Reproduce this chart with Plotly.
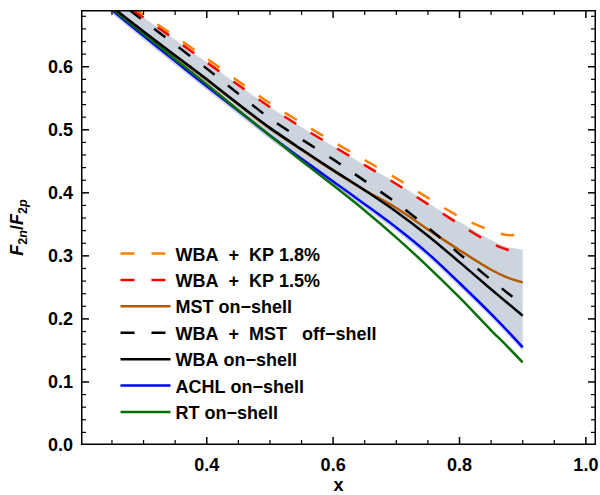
import plotly.graph_objects as go

# ---------------- data ----------------
x_vals = [0.20, 0.25, 0.30, 0.35, 0.40, 0.45, 0.50, 0.55, 0.60, 0.65, 0.70, 0.75, 0.80, 0.85, 0.875, 0.90]

kp18 = [0.750, 0.716, 0.682, 0.648, 0.613, 0.577, 0.542, 0.511, 0.481, 0.452, 0.423, 0.392, 0.362, 0.340, 0.333, 0.334]
kp15 = [0.745, 0.712, 0.678, 0.643, 0.607, 0.571, 0.536, 0.504, 0.474, 0.444, 0.414, 0.382, 0.350, 0.320, 0.310, 0.306]
mst_on = [0.734, 0.694, 0.655, 0.617, 0.579, 0.540, 0.502, 0.468, 0.435, 0.404, 0.376, 0.342, 0.309, 0.278, 0.266, 0.258]
wba_mst_off = [0.750, 0.711, 0.673, 0.635, 0.597, 0.557, 0.518, 0.485, 0.453, 0.419, 0.384, 0.345, 0.303, 0.262, 0.242, 0.222]
wba_on = [0.735, 0.695, 0.656, 0.618, 0.580, 0.541, 0.503, 0.469, 0.436, 0.404, 0.370, 0.332, 0.290, 0.247, 0.226, 0.205]
achl_on = [0.732, 0.690, 0.649, 0.609, 0.569, 0.530, 0.491, 0.454, 0.418, 0.382, 0.345, 0.304, 0.257, 0.208, 0.182, 0.155]
rt_on = [0.734, 0.692, 0.652, 0.612, 0.572, 0.531, 0.491, 0.451, 0.412, 0.372, 0.329, 0.283, 0.234, 0.182, 0.157, 0.131]

band_high = [0.745, 0.712, 0.678, 0.643, 0.607, 0.571, 0.536, 0.504, 0.474, 0.444, 0.416, 0.384, 0.354, 0.325, 0.314, 0.310]
band_low = [0.726, 0.684, 0.643, 0.603, 0.563, 0.524, 0.485, 0.448, 0.412, 0.376, 0.339, 0.298, 0.251, 0.202, 0.176, 0.149]

x_major_ticks = [0.4, 0.6, 0.8, 1.0]
x_minor_ticks = [0.25, 0.30, 0.35, 0.45, 0.50, 0.55, 0.65, 0.70, 0.75, 0.85, 0.90, 0.95]
y_major_ticks = [0.0, 0.1, 0.2, 0.3, 0.4, 0.5, 0.6]
y_minor_ticks = [0.02, 0.04, 0.06, 0.08, 0.12, 0.14, 0.16, 0.18, 0.22, 0.24, 0.26, 0.28,
                 0.32, 0.34, 0.36, 0.38, 0.42, 0.44, 0.46, 0.48, 0.52, 0.54, 0.56, 0.58,
                 0.62, 0.64, 0.66, 0.68]

NB = "\u00a0"
MINUS = "\u2212"
series_names = [
    f"WBA{NB}{NB}+{NB}{NB}KP{NB}1.8%",
    f"WBA{NB}{NB}+{NB}{NB}KP{NB}1.5%",
    f"MST{NB}on{MINUS}shell",
    f"WBA{NB}{NB}+{NB}{NB}MST{NB}{NB}{NB}off{MINUS}shell",
    f"WBA{NB}on{MINUS}shell",
    f"ACHL{NB}on{MINUS}shell",
    f"RT{NB}on{MINUS}shell",
]
series_values = [kp18, kp15, mst_on, wba_mst_off, wba_on, achl_on, rt_on]
series_colors = ["#FF8000", "#FF0000", "#B35A00", "#000000", "#000000", "#0000FF", "#0A6E0A"]
series_dash = ["14px,17px", "14px,17px", "solid", "14px,17px", "solid", "solid", "solid"]
draw_order = [2, 5, 6, 4, 3, 1, 0]  # brown, blue, green, black, dashed, red, orange

FONT = "Liberation Sans, Arial, sans-serif"
X_RANGE = [0.201, 1.016]
Y_RANGE = [0.0, 0.69]
MARGIN = dict(l=81, r=4, t=10, b=50)
W, H = 600, 495
plot_w = W - MARGIN["l"] - MARGIN["r"]
plot_h = H - MARGIN["t"] - MARGIN["b"]
x_per_px = (X_RANGE[1] - X_RANGE[0]) / plot_w
y_per_px = (Y_RANGE[1] - Y_RANGE[0]) / plot_h

fig = go.Figure()

# uncertainty band
fig.add_trace(go.Scatter(x=x_vals, y=band_low, mode="lines", line=dict(width=0, shape="spline", smoothing=0.8),
                         showlegend=False, hoverinfo="skip"))
fig.add_trace(go.Scatter(x=x_vals, y=band_high, mode="lines", line=dict(width=0, shape="spline", smoothing=0.8),
                         fill="tonexty", fillcolor="#CCD5DD", showlegend=False, hoverinfo="skip"))

for i in draw_order:
    fig.add_trace(go.Scatter(
        x=x_vals, y=series_values[i], mode="lines", name="<b>" + series_names[i] + "</b>",
        line=dict(color=series_colors[i], width=2.5, dash=series_dash[i], shape="spline", smoothing=0.8),
        legendrank=i + 1,
    ))


# ---- tick marks (inside, all four sides) built from the tick arrays ----
def tick_trace(xt, yt, length_px, width):
    xs, ys = [], []
    lx = length_px * x_per_px
    ly = length_px * y_per_px
    for v in xt:
        xs += [v, v, None, v, v, None]
        ys += [Y_RANGE[0], Y_RANGE[0] + ly, None, Y_RANGE[1], Y_RANGE[1] - ly, None]
    for v in yt:
        xs += [X_RANGE[0], X_RANGE[0] + lx, None, X_RANGE[1], X_RANGE[1] - lx, None]
        ys += [v, v, None, v, v, None]
    fig.add_trace(go.Scatter(x=xs, y=ys, mode="lines", line=dict(color="black", width=width),
                             showlegend=False, hoverinfo="skip", connectgaps=False))


tick_trace(x_minor_ticks, y_minor_ticks, 5, 1.2)
tick_trace(x_major_ticks, y_major_ticks, 8, 1.5)

# frame on the subplot edges (half of the stroke falls inside the plot area)
fig.add_trace(go.Scatter(
    x=[X_RANGE[0], X_RANGE[1], X_RANGE[1], X_RANGE[0], X_RANGE[0]],
    y=[Y_RANGE[0], Y_RANGE[0], Y_RANGE[1], Y_RANGE[1], Y_RANGE[0]],
    mode="lines", line=dict(color="black", width=3), showlegend=False, hoverinfo="skip"))

axis_common = dict(
    showline=False, ticks="", showgrid=False, zeroline=False, automargin=False,
    tickformat=".1f",
    tickfont=dict(family=FONT, size=18, color="black", weight="bold"),
)

fig.update_layout(
    xaxis=dict(range=X_RANGE, tickmode="array", tickvals=x_major_ticks,
               title=dict(text="<b>x</b>", font=dict(family=FONT, size=18, color="black"), standoff=4),
               ticklabelstandoff=7, **axis_common),
    yaxis=dict(range=Y_RANGE, tickmode="array", tickvals=y_major_ticks,
               title=dict(text="<b><i>F</i><sub>2<i>n</i></sub>/<i>F</i><sub>2<i>p</i></sub></b>",
                          font=dict(family=FONT, size=18, color="black"), standoff=19),
               ticklabelstandoff=7, **axis_common),
    width=W, height=H,
    margin=dict(**MARGIN, autoexpand=False),
    plot_bgcolor="white", paper_bgcolor="white",
    font=dict(family=FONT, size=18, color="black"),
    legend=dict(x=0.067, y=0.482, xanchor="left", yanchor="top",
                bgcolor="rgba(0,0,0,0)", borderwidth=0,
                font=dict(family=FONT, size=18, color="black"),
                itemwidth=50, tracegroupgap=0, traceorder="normal"),
    showlegend=True,
)

fig.write_html("out.html", config={"displayModeBar": False},
               post_script="document.body.style.margin='0px';")
